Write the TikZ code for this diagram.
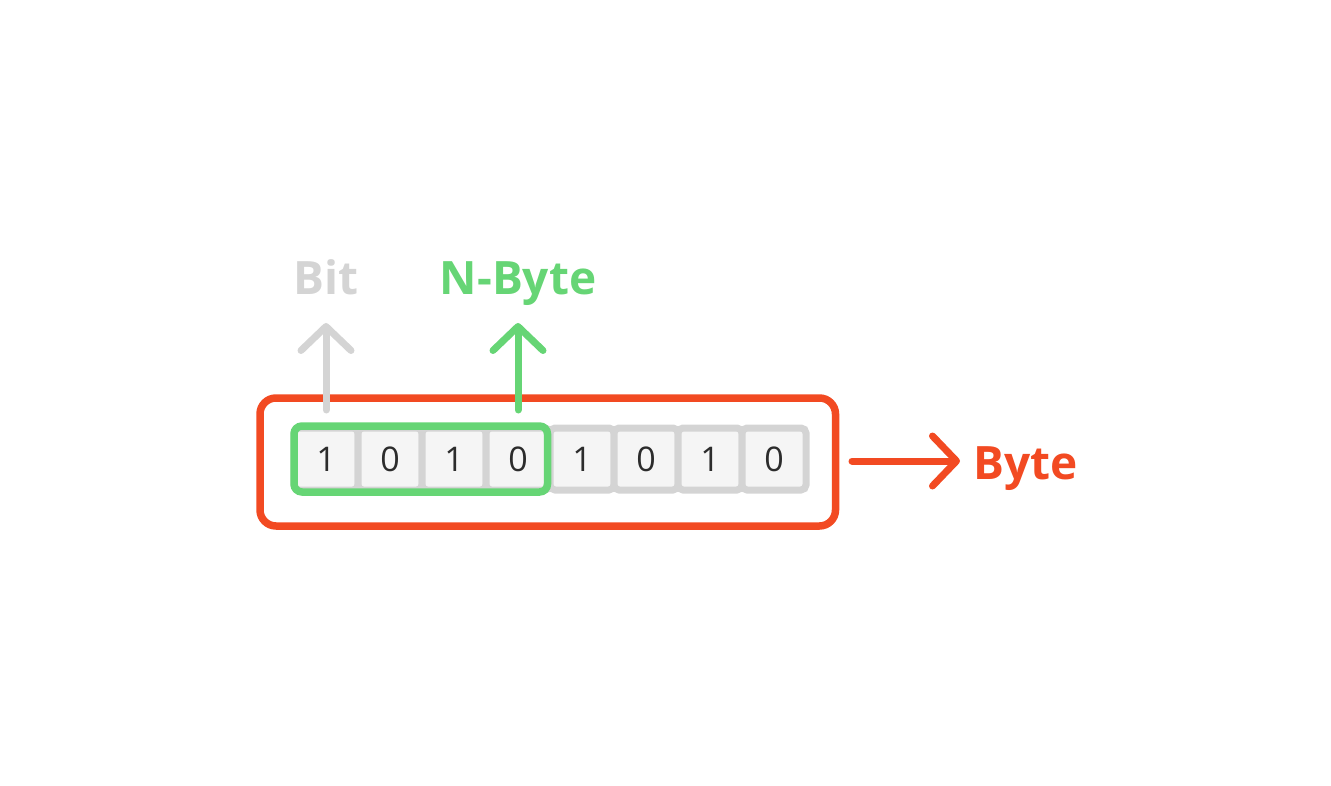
\documentclass[tikz,border=0pt]{standalone}
\usepackage{fontspec}
\setmainfont{Open Sans}
\usetikzlibrary{arrows.meta,positioning}
\definecolor{bytered}{HTML}{F24A22}
\definecolor{nbytegreen}{HTML}{66D575}
\definecolor{bitgray}{HTML}{D4D4D4}
\definecolor{cellfill}{HTML}{F5F5F5}
\definecolor{digitink}{HTML}{2C2C2C}
\tikzset{
  cell/.style={draw=bitgray, fill=cellfill, line width=7pt, rounded corners=5pt,
    minimum width=64pt, minimum height=62pt, inner sep=0pt, outer sep=0pt,
    text=digitink, font=\fontsize{34}{40}\selectfont},
  label/.style={font=\bfseries\fontsize{46}{55}\selectfont, inner sep=0pt},
  pointer/.style={line width=7pt, line cap=round,
    -{Straight Barb[length=24pt,width=50pt,round]}}
}
\begin{document}
\begin{tikzpicture}[x=1pt,y=-1pt]
  \useasboundingbox (0,0) rectangle (1331,786);
  % the eight bits
  \path
    (326,459) node[cell] (0){1}
    (390,459) node[cell] (1){0}
    (454,459) node[cell] (2){1}
    (518,459) node[cell] (3){0}
    (582,459) node[cell] (4){1}
    (646,459) node[cell] (5){0}
    (710,459) node[cell] (6){1}
    (774,459) node[cell] (7){0};
  % groups
  \draw[nbytegreen, line width=7.5pt, rounded corners=8pt]
    ([yshift=2pt]0.north west) rectangle ([xshift=-2.5pt,yshift=-2pt]3.south east);
  \draw[bytered, line width=7.5pt, rounded corners=16pt]
    (260,398) rectangle (835.5,526);
  % labels
  \node[label, text=bitgray, anchor=base] (bit) at (326,295) {Bit};
  \node[label, text=nbytegreen, anchor=base] (nbyte) at (518,295) {N-Byte};
  \node[label, text=bytered, anchor=base west] (byte) at (973,479) {Byte};
  \coordinate (bitfoot) at (326,410);
  \coordinate (nbytefoot) at (518,410);
  \coordinate (bytefoot) at (852,461);
  \begin{scope}[pointer]
    \draw[bitgray, shorten >=28pt] (bitfoot) to (bit.base);
    \draw[nbytegreen, shorten >=28pt] (nbytefoot) to (nbyte.base);
    \draw[bytered, shorten >=13pt] (bytefoot) to (bytefoot -| byte.west);
  \end{scope}
\end{tikzpicture}
\end{document}
